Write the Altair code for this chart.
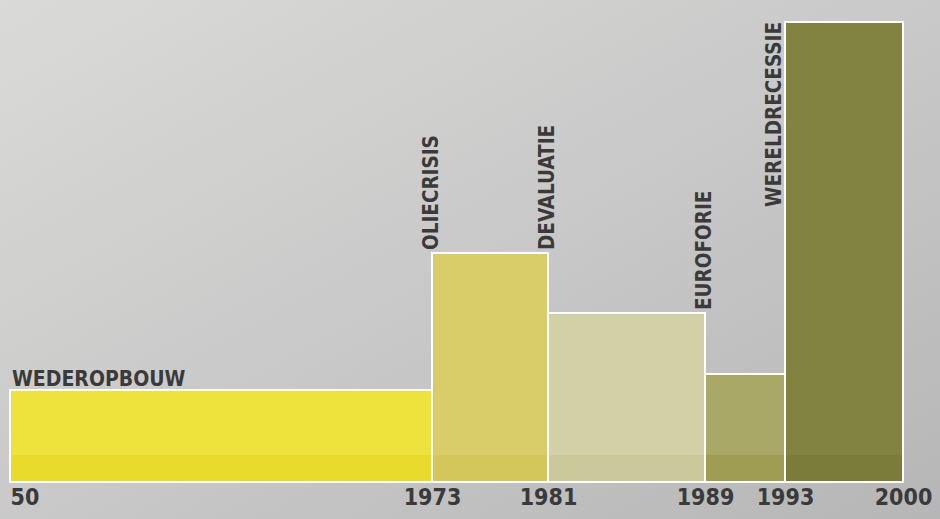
import altair as alt
import pandas as pd

# ---- data ----
periods = ["1950-1973", "1973-1981", "1981-1989", "1989-1993", "1993-2000"]
starts = [1950, 1973, 1981, 1989, 1993]
ends = [1973, 1981, 1989, 1993, 2000]
heights = [92, 229, 169, 108, 460]

label_names = ["WEDEROPBOUW", "OLIECRISIS", "DEVALUATIE", "EUROFORIE", "WERELDRECESSIE"]
label_years = [1950, 1973, 1981, 1989, 1993]
label_levels = [92, 229, 229, 169, 460]

tick_years = [1950, 1973, 1981, 1989, 1993, 2000]

# ---- style ----
FONT = "DejaVu Sans Condensed, sans-serif"
TEXT = "#3a3a3a"
main_colors = ["#ede33c", "#d8cd68", "#d2d0a6", "#aaa866", "#838341"]
band_colors = ["#e7d92a", "#d3c75a", "#cac79a", "#9d9a52", "#7a7a3a"]

bars = pd.DataFrame({"period": periods, "start": starts, "end": ends, "h": heights})
labels = pd.DataFrame({"name": label_names, "year": label_years, "level": label_levels})

xscale = alt.Scale(domain=tick_years, range=[10, 432, 548, 705, 785, 903], nice=False, zero=False)
yscale = alt.Scale(domain=[0, 482], nice=False, zero=True)

xaxis = alt.Axis(
    values=tick_years,
    format="d",
    labelExpr="datum.value == 1950 ? '50' : datum.label",
    labelAlign={"condition": {"test": "datum.value == 1950", "value": "left"}, "value": "center"},
    labelFont=FONT,
    labelFontSize=23,
    labelFontWeight="bold",
    labelColor=TEXT,
    labelPadding=4,
    labelOverlap=False,
    domain=False,
    ticks=False,
    grid=False,
    title=None,
    zindex=2,
)

bg = alt.Chart(pd.DataFrame({"a": [0]})).mark_rect(
    fill=alt.Gradient(
        gradient="linear",
        x1=0, y1=0, x2=1, y2=1,
        stops=[
            alt.GradientStop(offset=0, color="#dadad8"),
            alt.GradientStop(offset=0.5, color="#c9c9c9"),
            alt.GradientStop(offset=1, color="#b6b6b6"),
        ],
    )
).encode(x=alt.value(0), x2=alt.value(940), y=alt.value(0), y2=alt.value(519))

base = alt.Chart(bars)

fills = base.mark_bar().encode(
    x=alt.X("start:Q", scale=xscale, axis=xaxis),
    x2="end:Q",
    y=alt.Y("h:Q", scale=yscale, axis=None),
    y2=alt.datum(0),
    color=alt.Color("period:N", scale=alt.Scale(domain=periods, range=main_colors), legend=None),
)

band = base.mark_bar(opacity=0.9).encode(
    x=alt.X("start:Q", scale=xscale),
    x2="end:Q",
    y=alt.datum(27),
    y2=alt.datum(0),
    fill=alt.Fill("period:N", scale=alt.Scale(domain=periods, range=band_colors), legend=None),
)

outline = base.mark_bar(fillOpacity=0, stroke="white", strokeWidth=2).encode(
    x=alt.X("start:Q", scale=xscale),
    x2="end:Q",
    y=alt.Y("h:Q", scale=yscale),
    y2=alt.datum(0),
)

lab = alt.Chart(labels)
txt_h = lab.transform_filter(alt.datum.name == "WEDEROPBOUW").mark_text(
    align="left", baseline="alphabetic", dx=2, dy=-4, font=FONT, fontSize=21,
    fontWeight="bold", color=TEXT,
).encode(x=alt.X("year:Q", scale=xscale), y=alt.Y("level:Q", scale=yscale), text="name:N")

txt_v = lab.transform_filter(
    (alt.datum.name != "WEDEROPBOUW") & (alt.datum.name != "WERELDRECESSIE")
).mark_text(
    angle=270, align="left", baseline="middle", dx=3, font=FONT, fontSize=20.5,
    fontWeight="bold", color=TEXT,
).encode(x=alt.X("year:Q", scale=xscale), y=alt.Y("level:Q", scale=yscale), text="name:N")

txt_w = lab.transform_filter(alt.datum.name == "WERELDRECESSIE").mark_text(
    angle=270, align="right", baseline="bottom", dx=0, font=FONT, fontSize=20.5,
    fontWeight="bold", color=TEXT,
).encode(x=alt.X("year:Q", scale=xscale), y=alt.Y("level:Q", scale=yscale), text="name:N")

chart = alt.layer(bg, fills, band, outline, txt_h, txt_v, txt_w).resolve_scale(
    color="independent", fill="independent"
).properties(
    width=940,
    height=482,
    autosize=alt.AutoSizeParams(type="none"),
    padding={"left": 0, "right": 0, "top": 0, "bottom": 37},
    background="#c6c6c6",
).configure_view(stroke=None)

chart.save("out.html", embed_options={"renderer": "svg", "actions": False})
